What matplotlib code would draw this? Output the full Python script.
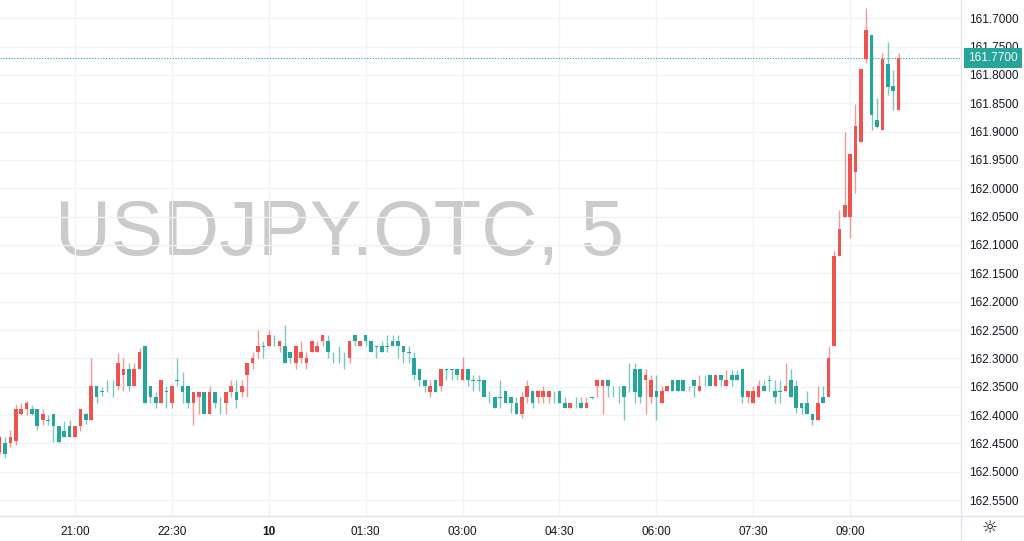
import matplotlib
matplotlib.use("Agg")
import matplotlib.pyplot as plt
import numpy as np
import pandas as pd
from matplotlib.lines import Line2D
from matplotlib.ticker import FormatStrFormatter

plt.rcParams['font.family'] = ['Liberation Sans', 'DejaVu Sans']

# 5 minute candles of USDJPY.OTC, first bar at 19:50
start = '2024-07-09 19:50'

opens = [
    162.465, 162.449, 162.449, 162.445, 162.399, 162.389, 162.389, 162.389, 162.409, 162.409,
    162.399, 162.419, 162.428, 162.419, 162.438, 162.419, 162.399, 162.409, 162.348, 162.358,
    162.348, 162.348, 162.348, 162.329, 162.319, 162.348, 162.319, 162.279, 162.348, 162.369,
    162.378, 162.358, 162.378, 162.338, 162.348, 162.348, 162.378, 162.369, 162.359, 162.398,
    162.359, 162.378, 162.378, 162.359, 162.359, 162.359, 162.329, 162.309, 162.289, 162.278,
    162.279, 162.269, 162.279, 162.278, 162.289, 162.309, 162.299, 162.309, 162.289, 162.289,
    162.269, 162.269, 162.299, 162.299, 162.299, 162.299, 162.259, 162.279, 162.259, 162.269,
    162.279, 162.278, 162.278, 162.269, 162.269, 162.279, 162.289, 162.299, 162.319, 162.338,
    162.359, 162.338, 162.348, 162.319, 162.319, 162.319, 162.338, 162.319, 162.338, 162.338,
    162.338, 162.357, 162.368, 162.368, 162.357, 162.368, 162.378, 162.398, 162.368, 162.357,
    162.368, 162.368, 162.368, 162.357, 162.357, 162.378, 162.388, 162.378, 162.378, 162.388,
    162.369, 162.348, 162.348, 162.338, 162.348, 162.348, 162.348, 162.348, 162.319, 162.319,
    162.338, 162.369, 162.358, 162.378, 162.358, 162.338, 162.338, 162.338, 162.348, 162.338,
    162.358, 162.329, 162.329, 162.348, 162.329, 162.348, 162.329, 162.329, 162.319, 162.369,
    162.378, 162.369, 162.348, 162.338, 162.358, 162.358, 162.358, 162.338, 162.348, 162.378,
    162.378, 162.398, 162.408, 162.368, 162.369, 162.279, 162.119, 162.050, 162.050, 161.971,
    161.919, 161.771, 161.729, 161.879, 161.897, 161.781, 161.819, 161.861,
]
highs = [
    162.468, 162.475, 162.457, 162.453, 162.400, 162.400, 162.400, 162.426, 162.418, 162.418,
    162.448, 162.450, 162.438, 162.438, 162.438, 162.429, 162.416, 162.409, 162.378, 162.366,
    162.359, 162.368, 162.356, 162.358, 162.358, 162.348, 162.319, 162.378, 162.378, 162.388,
    162.378, 162.388, 162.388, 162.348, 162.378, 162.388, 162.418, 162.398, 162.398, 162.398,
    162.388, 162.398, 162.398, 162.369, 162.388, 162.369, 162.368, 162.319, 162.299, 162.299,
    162.279, 162.278, 162.289, 162.309, 162.309, 162.319, 162.309, 162.319, 162.289, 162.289,
    162.278, 162.299, 162.309, 162.309, 162.319, 162.309, 162.278, 162.279, 162.278, 162.289,
    162.299, 162.289, 162.289, 162.279, 162.299, 162.309, 162.309, 162.338, 162.348, 162.359,
    162.368, 162.359, 162.357, 162.338, 162.338, 162.338, 162.338, 162.348, 162.357, 162.357,
    162.368, 162.379, 162.388, 162.388, 162.378, 162.397, 162.398, 162.406, 162.378, 162.388,
    162.378, 162.378, 162.378, 162.378, 162.378, 162.388, 162.388, 162.388, 162.388, 162.388,
    162.371, 162.368, 162.398, 162.368, 162.368, 162.378, 162.408, 162.359, 162.378, 162.378,
    162.398, 162.378, 162.408, 162.378, 162.358, 162.358, 162.358, 162.358, 162.358, 162.368,
    162.358, 162.348, 162.348, 162.348, 162.348, 162.348, 162.348, 162.338, 162.378, 162.378,
    162.378, 162.369, 162.358, 162.358, 162.378, 162.378, 162.358, 162.369, 162.397, 162.398,
    162.398, 162.418, 162.408, 162.378, 162.369, 162.279, 162.119, 162.050, 162.088, 162.009,
    161.919, 161.779, 161.897, 161.894, 161.897, 161.835, 161.862, 161.861,
]
lows = [
    162.437, 162.439, 162.426, 162.381, 162.379, 162.376, 162.382, 162.389, 162.390, 162.400,
    162.399, 162.419, 162.410, 162.409, 162.419, 162.389, 162.397, 162.300, 162.348, 162.351,
    162.339, 162.339, 162.290, 162.300, 162.309, 162.309, 162.281, 162.279, 162.348, 162.359,
    162.338, 162.348, 162.348, 162.300, 162.324, 162.348, 162.359, 162.359, 162.359, 162.348,
    162.359, 162.369, 162.359, 162.338, 162.338, 162.338, 162.309, 162.289, 162.250, 162.269,
    162.250, 162.259, 162.269, 162.241, 162.289, 162.278, 162.269, 162.289, 162.269, 162.269,
    162.259, 162.259, 162.289, 162.279, 162.289, 162.269, 162.259, 162.269, 162.259, 162.269,
    162.279, 162.269, 162.259, 162.259, 162.259, 162.279, 162.279, 162.289, 162.319, 162.338,
    162.338, 162.338, 162.319, 162.319, 162.319, 162.319, 162.298, 162.319, 162.329, 162.329,
    162.338, 162.357, 162.368, 162.338, 162.357, 162.368, 162.368, 162.359, 162.338, 162.357,
    162.357, 162.348, 162.357, 162.357, 162.357, 162.368, 162.378, 162.368, 162.368, 162.368,
    162.368, 162.338, 162.338, 162.338, 162.348, 162.348, 162.348, 162.309, 162.309, 162.319,
    162.319, 162.329, 162.329, 162.348, 162.348, 162.338, 162.338, 162.338, 162.348, 162.338,
    162.329, 162.329, 162.329, 162.329, 162.329, 162.321, 162.321, 162.321, 162.319, 162.358,
    162.348, 162.338, 162.338, 162.329, 162.338, 162.338, 162.309, 162.319, 162.338, 162.378,
    162.358, 162.398, 162.348, 162.348, 162.279, 162.110, 162.039, 161.900, 161.939, 161.851,
    161.790, 161.681, 161.729, 161.841, 161.761, 161.741, 161.791, 161.761,
]
closes = [
    162.438, 162.469, 162.438, 162.389, 162.389, 162.379, 162.399, 162.419, 162.399, 162.410,
    162.419, 162.448, 162.438, 162.438, 162.419, 162.389, 162.409, 162.348, 162.369, 162.359,
    162.349, 162.349, 162.309, 162.319, 162.348, 162.319, 162.289, 162.378, 162.369, 162.378,
    162.338, 162.359, 162.348, 162.339, 162.359, 162.378, 162.359, 162.359, 162.398, 162.359,
    162.378, 162.379, 162.359, 162.348, 162.373, 162.348, 162.309, 162.299, 162.278, 162.279,
    162.259, 162.270, 162.269, 162.309, 162.299, 162.278, 162.289, 162.299, 162.269, 162.278,
    162.259, 162.289, 162.300, 162.300, 162.300, 162.269, 162.269, 162.269, 162.269, 162.289,
    162.280, 162.289, 162.279, 162.279, 162.279, 162.289, 162.290, 162.329, 162.338, 162.348,
    162.348, 162.359, 162.319, 162.320, 162.320, 162.329, 162.319, 162.338, 162.339, 162.339,
    162.368, 162.358, 162.388, 162.369, 162.378, 162.379, 162.398, 162.368, 162.348, 162.378,
    162.357, 162.357, 162.357, 162.358, 162.378, 162.388, 162.378, 162.379, 162.388, 162.378,
    162.370, 162.338, 162.338, 162.348, 162.349, 162.349, 162.369, 162.349, 162.359, 162.369,
    162.329, 162.338, 162.369, 162.358, 162.348, 162.358, 162.358, 162.358, 162.349, 162.348,
    162.348, 162.330, 162.348, 162.329, 162.338, 162.338, 162.338, 162.338, 162.369, 162.358,
    162.358, 162.348, 162.358, 162.339, 162.369, 162.359, 162.348, 162.369, 162.388, 162.388,
    162.398, 162.408, 162.378, 162.378, 162.299, 162.119, 162.071, 162.029, 161.939, 161.890,
    161.790, 161.721, 161.871, 161.891, 161.771, 161.821, 161.829, 161.770,
]

tick_times = ['21:00', '22:30', '00:00', '01:30', '03:00', '04:30', '06:00', '07:30', '09:00']
tick_labels = ['21:00', '22:30', '10', '01:30', '03:00', '04:30', '06:00', '07:30', '09:00']
price_ticks = [161.70, 161.75, 161.80, 161.85, 161.90, 161.95, 162.00, 162.05, 162.10,
               162.15, 162.20, 162.25, 162.30, 162.35, 162.40, 162.45, 162.50, 162.55]

up_color = '#26a69a'
down_color = '#ef5350'
text_color = '#131722'
grid_color = '#f0f3fa'
border_color = '#e0e3eb'
label_size = 8.5

o = np.array(opens)
h = np.array(highs)
l = np.array(lows)
c = np.array(closes)
x = np.arange(len(o))
times = pd.date_range(start, periods=len(o), freq='5min')
hhmm = times.strftime('%H:%M')
tick_pos = [x[hhmm == t][0] for t in tick_times]

colors = np.where(c >= o, up_color, down_color)

fig = plt.figure(figsize=(10.24, 5.41), dpi=100)
ax = fig.add_axes([0, 25 / 541, 961 / 1024, 516 / 541])

# watermark
ax.text(55 / 961, 1 - 255 / 516, 'USDJPY.OTC, 5', transform=ax.transAxes,
        fontsize=56, color='#cbcbcb', ha='left', va='baseline', zorder=0)

ax.vlines(x, l, h, colors=colors, linewidth=1, alpha=0.6, zorder=3)
ax.bar(x, np.maximum(np.abs(c - o), 0.0012), bottom=np.minimum(o, c), width=0.68,
       color=colors, linewidth=0, zorder=4)

# axes limits: price scale is inverted like in the screenshot
ax.set_xlim(0.07, 178.6)
ax.set_ylim(162.5782, 161.6677)

ax.set_yticks(price_ticks)
ax.yaxis.set_major_formatter(FormatStrFormatter('%.4f'))
ax.yaxis.tick_right()
ax.set_xticks(tick_pos)
ax.set_xticklabels(tick_labels)
for lbl in ax.get_xticklabels():
    if lbl.get_text() == '10':
        lbl.set_fontweight('bold')

ax.tick_params(axis='y', length=0, pad=6, labelsize=label_size, labelcolor=text_color)
ax.tick_params(axis='x', length=0, pad=7, labelsize=label_size, labelcolor=text_color)
ax.grid(True, color=grid_color, linewidth=1)
ax.set_axisbelow(True)

for side in ['top', 'left', 'right', 'bottom']:
    ax.spines[side].set_visible(False)

# scale borders
fig.add_artist(Line2D([0, 1], [25 / 541, 25 / 541], transform=fig.transFigure,
                      color=border_color, linewidth=1))
fig.add_artist(Line2D([961 / 1024, 961 / 1024], [0, 1], transform=fig.transFigure,
                      color=border_color, linewidth=1))

# last price line and label
last = closes[-1]
ax.axhline(last, color=up_color, linewidth=0.8, linestyle=(0, (1, 1.5)), zorder=2)
ax.annotate(f'{last:.4f}', xy=(1, last), xycoords=('axes fraction', 'data'),
            xytext=(7, 0), textcoords='offset pixels', ha='left', va='center',
            fontsize=label_size, color='white', annotation_clip=False, zorder=10,
            bbox=dict(boxstyle='square,pad=0.35', fc=up_color, ec='none'))

fig.text(990 / 1024, 1 - 528 / 541, '\u263c', ha='center', va='center', fontsize=13,
         color=text_color, family=['DejaVu Sans'])

fig.savefig('out.png', dpi=100, facecolor='white')
